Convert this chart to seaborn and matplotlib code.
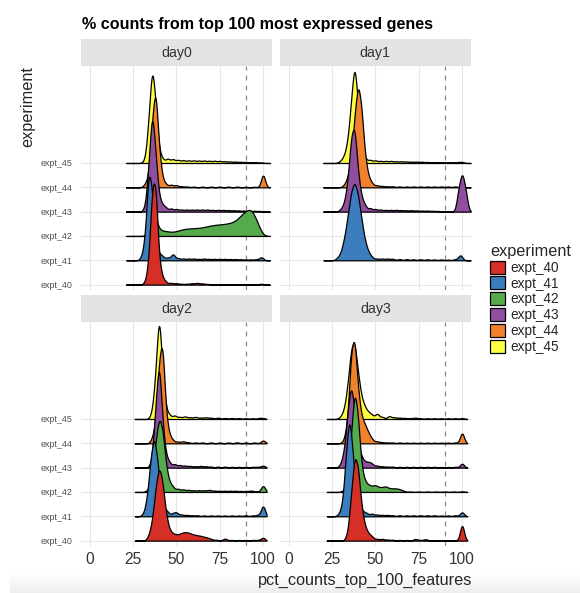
import numpy as np
import pandas as pd
import seaborn as sns
import matplotlib.pyplot as plt
from matplotlib.transforms import Affine2D
from matplotlib.patches import Patch

experiments = ["expt_40", "expt_41", "expt_42", "expt_43", "expt_44", "expt_45"]
days = ["day0", "day1", "day2", "day3"]
colors = ["#d52f28", "#3b7dbd", "#55ab4c", "#8f4f9e", "#f2812d", "#fdfd46"]

# range of pct values each panel's ridges are drawn over
day_clip = {"day0": (21, 104), "day1": (20, 105), "day2": (26, 102), "day3": (22, 103)}

# ridge profiles: (pct values, weights) per experiment
day0 = {
    "expt_40": ([32, 34, 36, 38, 40, 42, 44, 47, 50, 53, 56, 59, 62, 65, 68, 72, 76, 80, 85, 90, 95, 99],
                [0.1, 0.95, 4.2, 4.5, 1.0, 0.3, 0.12, 0.1, 0.08, 0.05, 0.05, 0.08, 0.1, 0.07, 0.04, 0.03, 0.03, 0.03, 0.03, 0.03, 0.03, 0.05]),
    "expt_41": ([30, 32, 34, 36, 38, 40, 42, 45, 48, 51, 54, 57, 60, 63, 66, 69, 72, 75, 78, 81, 84, 87, 90, 93, 96, 99],
                [0.15, 1.0, 4.0, 3.0, 0.6, 0.3, 0.2, 0.15, 0.35, 0.12, 0.1, 0.1, 0.1, 0.08, 0.1, 0.08, 0.08, 0.08, 0.08, 0.07, 0.07, 0.06, 0.05, 0.05, 0.06, 0.18]),
    "expt_42": ([34, 36, 38, 40, 42, 44, 46, 48, 50, 52, 54, 56, 58, 60, 62, 64, 66, 68, 70, 72, 74, 76, 78, 80, 82, 84, 86, 88, 90, 92, 94, 96, 98, 100],
                [0.4, 1.4, 0.8, 0.3, 0.22, 0.2, 0.18, 0.17, 0.2, 0.24, 0.28, 0.3, 0.31, 0.32, 0.33, 0.34, 0.37, 0.4, 0.43, 0.45, 0.47, 0.48, 0.5, 0.52, 0.56, 0.63, 0.75, 0.9, 1.02, 1.1, 1.0, 0.7, 0.35, 0.07]),
    "expt_43": ([32, 34, 36, 38, 40, 42, 44, 47, 50, 53, 56, 59, 62, 65, 68, 71, 74, 77, 80, 83, 86, 89, 92, 95, 98, 101],
                [0.2, 1.9, 4.5, 2.45, 0.6, 0.3, 0.2, 0.18, 0.15, 0.12, 0.12, 0.12, 0.12, 0.12, 0.12, 0.1, 0.1, 0.1, 0.09, 0.08, 0.07, 0.06, 0.05, 0.05, 0.04, 0.03]),
    "expt_44": ([32, 34, 36, 38, 40, 42, 44, 47, 50, 53, 56, 60, 65, 70, 75, 80, 85, 90, 95, 100],
                [0.15, 0.5, 2.8, 4.4, 1.6, 0.35, 0.15, 0.15, 0.12, 0.06, 0.05, 0.04, 0.04, 0.04, 0.04, 0.04, 0.04, 0.03, 0.03, 0.72]),
    "expt_45": ([32, 34, 36, 38, 40, 42, 45, 48, 51, 54, 57, 60, 63, 66, 69, 72, 75, 78, 81, 84, 87, 90, 93, 96, 99],
                [0.15, 1.8, 4.3, 2.55, 0.5, 0.2, 0.25, 0.22, 0.18, 0.16, 0.15, 0.15, 0.14, 0.14, 0.13, 0.13, 0.12, 0.1, 0.09, 0.08, 0.07, 0.06, 0.05, 0.04, 0.03]),
}
day1 = {
    "expt_41": ([28, 30, 32, 34, 36, 38, 40, 42, 44, 46, 48, 51, 54, 57, 60, 64, 68, 72, 76, 80, 84, 88, 92, 96, 99],
                [0.1, 0.3, 0.9, 1.8, 2.85, 3.3, 2.75, 1.7, 0.8, 0.35, 0.15, 0.1, 0.1, 0.1, 0.09, 0.07, 0.07, 0.06, 0.06, 0.06, 0.05, 0.05, 0.04, 0.06, 0.3]),
    "expt_43": ([30, 32, 34, 36, 38, 40, 42, 44, 47, 50, 53, 56, 59, 62, 65, 68, 71, 74, 77, 80, 83, 86, 89, 98, 100, 102],
                [0.1, 0.35, 1.2, 3.2, 3.7, 1.6, 0.6, 0.3, 0.2, 0.15, 0.12, 0.1, 0.1, 0.1, 0.09, 0.08, 0.08, 0.07, 0.06, 0.06, 0.05, 0.04, 0.02, 1.0, 1.75, 1.0]),
    "expt_44": ([32, 34, 36, 38, 40, 42, 44, 46, 48, 51, 54, 57, 60, 64, 68, 72, 76, 80, 84, 88, 92, 96, 100],
                [0.1, 0.4, 1.2, 2.95, 4.45, 3.4, 1.3, 0.45, 0.2, 0.12, 0.08, 0.06, 0.06, 0.05, 0.05, 0.05, 0.05, 0.05, 0.05, 0.05, 0.05, 0.05, 0.05]),
    "expt_45": ([30, 32, 34, 36, 38, 40, 42, 44, 47, 50, 53, 56, 59, 62, 65, 68, 71, 74, 77, 80, 83, 86, 89, 92, 95, 98, 100],
                [0.1, 0.3, 0.9, 2.55, 4.4, 2.35, 0.6, 0.25, 0.18, 0.15, 0.12, 0.12, 0.12, 0.1, 0.1, 0.09, 0.08, 0.08, 0.07, 0.06, 0.05, 0.05, 0.04, 0.04, 0.04, 0.05, 0.05]),
}
day2 = {
    "expt_40": ([34, 36, 38, 40, 42, 44, 46, 48, 50, 52, 54, 56, 58, 60, 62, 64, 66, 68, 70, 73, 78, 82, 86, 90, 94, 97, 100],
                [0.2, 0.8, 2.2, 3.15, 2.5, 1.1, 0.45, 0.3, 0.25, 0.28, 0.35, 0.35, 0.3, 0.25, 0.22, 0.2, 0.16, 0.12, 0.08, 0.05, 0.12, 0.04, 0.04, 0.04, 0.04, 0.04, 0.17]),
    "expt_41": ([31, 33, 35, 37, 39, 41, 43, 45, 48, 50, 53, 56, 59, 62, 66, 70, 74, 78, 82, 86, 90, 94, 97, 100],
                [0.1, 0.7, 2.3, 3.45, 2.4, 0.9, 0.35, 0.2, 0.15, 0.2, 0.1, 0.08, 0.06, 0.06, 0.05, 0.05, 0.05, 0.05, 0.05, 0.05, 0.06, 0.05, 0.08, 0.6]),
    "expt_42": ([34, 36, 38, 40, 42, 44, 46, 48, 51, 54, 57, 60, 63, 66, 69, 72, 75, 78, 81, 84, 87, 90, 93, 96, 100],
                [0.15, 0.6, 2.1, 3.15, 2.7, 1.1, 0.4, 0.25, 0.18, 0.15, 0.12, 0.1, 0.1, 0.1, 0.12, 0.08, 0.07, 0.07, 0.07, 0.07, 0.06, 0.06, 0.08, 0.05, 0.36]),
    "expt_43": ([36, 38, 40, 42, 44, 46, 49, 52, 55, 58, 61, 64, 67, 70, 74, 78, 82, 86, 90, 94, 97, 100],
                [0.4, 2.55, 4.8, 1.9, 0.5, 0.25, 0.2, 0.15, 0.12, 0.1, 0.08, 0.1, 0.08, 0.06, 0.06, 0.06, 0.05, 0.05, 0.05, 0.05, 0.05, 0.12]),
    "expt_44": ([36, 38, 40, 42, 44, 46, 48, 51, 54, 57, 61, 65, 70, 75, 80, 85, 90, 95, 100],
                [0.2, 0.9, 3.5, 4.5, 1.2, 0.35, 0.15, 0.1, 0.12, 0.06, 0.05, 0.05, 0.05, 0.05, 0.05, 0.06, 0.05, 0.05, 0.17]),
    "expt_45": ([36, 38, 40, 42, 44, 46, 49, 52, 55, 58, 61, 64, 67, 70, 74, 78, 82, 86, 90, 94, 98, 100],
                [0.3, 1.9, 4.8, 1.9, 0.4, 0.2, 0.2, 0.12, 0.15, 0.1, 0.12, 0.08, 0.1, 0.08, 0.08, 0.06, 0.06, 0.05, 0.04, 0.04, 0.06, 0.04]),
}
day3 = {
    "expt_40": ([34, 36, 38, 40, 42, 44, 46, 48, 51, 54, 57, 60, 64, 68, 73, 76, 79, 83, 87, 91, 95, 100],
                [0.3, 1.9, 3.65, 3.15, 1.4, 0.6, 0.3, 0.2, 0.1, 0.1, 0.06, 0.05, 0.04, 0.04, 0.1, 0.04, 0.08, 0.03, 0.03, 0.03, 0.03, 0.9]),
    "expt_41": ([29, 31, 33, 35, 37, 39, 41, 43, 45, 48, 51, 54, 57, 60, 64, 68, 72, 76, 80, 84, 88, 92, 96, 100],
                [0.1, 0.5, 2.55, 4.4, 2.55, 0.9, 0.4, 0.2, 0.15, 0.15, 0.1, 0.08, 0.08, 0.06, 0.06, 0.06, 0.06, 0.06, 0.06, 0.06, 0.05, 0.05, 0.06, 0.24]),
    "expt_42": ([32, 34, 36, 38, 40, 42, 44, 46, 48, 50, 52, 54, 56, 58, 60, 62, 64, 66, 70, 75, 80, 85, 90, 95, 100],
                [0.1, 0.5, 2.35, 4.4, 3.2, 1.0, 0.45, 0.3, 0.25, 0.3, 0.2, 0.2, 0.25, 0.15, 0.15, 0.15, 0.12, 0.06, 0.02, 0.02, 0.02, 0.02, 0.02, 0.02, 0.03]),
    "expt_43": ([30, 32, 34, 36, 38, 40, 42, 44, 46, 48, 51, 54, 57, 60, 64, 68, 72, 76, 80, 84, 88, 92, 96, 100],
                [0.15, 0.7, 2.3, 3.6, 2.4, 1.0, 0.45, 0.25, 0.25, 0.2, 0.12, 0.08, 0.06, 0.06, 0.05, 0.05, 0.05, 0.05, 0.05, 0.05, 0.04, 0.04, 0.05, 0.24]),
    "expt_44": ([32, 34, 36, 38, 40, 42, 44, 46, 48, 51, 54, 57, 60, 64, 68, 72, 76, 80, 84, 88, 92, 96, 100],
                [0.15, 1.0, 3.9, 4.6, 2.2, 1.1, 0.8, 0.45, 0.2, 0.12, 0.07, 0.05, 0.05, 0.05, 0.04, 0.04, 0.04, 0.04, 0.04, 0.04, 0.04, 0.05, 0.6]),
    "expt_45": ([30, 32, 34, 36, 38, 40, 42, 44, 46, 48, 51, 54, 58, 61, 64, 67, 70, 73, 76, 80, 84, 88, 92, 96, 100],
                [0.1, 0.4, 1.4, 3.0, 3.3, 1.9, 0.9, 0.5, 0.3, 0.2, 0.3, 0.12, 0.17, 0.1, 0.08, 0.06, 0.05, 0.08, 0.04, 0.04, 0.04, 0.04, 0.04, 0.04, 0.05]),
}

rows = []
for day, ridges in zip(days, [day0, day1, day2, day3]):
    for expt, (vals, wts) in ridges.items():
        for v, w in zip(vals, wts):
            rows.append({"day": day, "experiment": expt, "pct": v, "weight": w})
df = pd.DataFrame(rows)

BW = 1.2      # kde bandwidth in pct units
SCALE = 2.0   # ridge height per unit of weight density

sns.set_theme(style="white")
plt.rcParams["font.family"] = ["Liberation Sans", "DejaVu Sans"]
palette = dict(zip(experiments, colors))

W, H = 580, 593
fig = plt.figure(figsize=(W / 100, H / 100), dpi=100)


def fx(px):
    return px / W


def fy(py):
    return 1 - py / H


# faint grey band along the bottom edge of the screenshot
bg = fig.add_axes([fx(10), 0, 1 - fx(10), 20 / H], zorder=-10)
bg.imshow(np.linspace(1.0, 0.93, 50)[:, None], cmap="gray", vmin=0, vmax=1,
          aspect="auto", extent=(0, 1, 0, 1))
bg.axis("off")

panel_w = 190.7
lefts = [81, 280]
tops = [65.7, 321.7]
panel_h = 224.5
strip_h = 26.4

for k, day in enumerate(days):
    r, c = divmod(k, 2)
    left, top = lefts[c], tops[r]
    ax = fig.add_axes([fx(left), fy(top + panel_h), panel_w / W, panel_h / H])
    sax = fig.add_axes([fx(left), fy(top), panel_w / W, strip_h / H])
    sax.set_facecolor("#e3e3e3")
    sax.set_xticks([])
    sax.set_yticks([])
    for s in sax.spines.values():
        s.set_visible(False)
    sax.text(0.5, 0.5, day, ha="center", va="center", fontsize=10.2, color="#333333")

    ax.axvline(90, color="#8c8c8c", lw=0.9, ls=(0, (4, 4)), zorder=0.5)
    sub_day = df[df["day"] == day]
    # top ridge first so lower ridges sit in front
    for expt in experiments[::-1]:
        sub = sub_day[sub_day["experiment"] == expt]
        if sub.empty:
            continue
        pos = experiments.index(expt) + 1
        vals = sub["pct"].to_numpy(float)
        wts = sub["weight"].to_numpy(float)
        sd = np.sqrt(np.cov(vals, aweights=wts))
        n0 = len(ax.collections)
        sns.kdeplot(x=vals, weights=wts, bw_method=BW / sd, clip=day_clip[day], cut=60,
                    gridsize=600, fill=True, color=palette[expt], alpha=1,
                    edgecolor="black", linewidth=0.9, ax=ax)
        for coll in ax.collections[n0:]:
            coll.set_transform(Affine2D().scale(1, SCALE * wts.sum()).translate(0, pos) + ax.transData)

    ax.set_xlim(-5, 105)
    ax.set_ylim(0.77, 10.0)
    ax.set_xticks([0, 25, 50, 75, 100])
    ax.set_yticks(range(1, 7))
    ax.grid(True, color="#e6e6e6", lw=0.8)
    ax.set_axisbelow(True)
    for s in ax.spines.values():
        s.set_visible(False)
    ax.set_xlabel("")
    ax.set_ylabel("")
    ax.tick_params(length=0)
    if r == 1:
        ax.set_xticklabels(["0", "25", "50", "75", "100"], fontsize=11.2, color="#333333")
        ax.tick_params(axis="x", pad=4.5)
    else:
        ax.set_xticklabels([])
    if c == 0:
        ax.set_yticklabels(experiments, fontsize=6.4, color="#4d4d4d")
        ax.tick_params(axis="y", pad=6)
    else:
        ax.set_yticklabels([])

fig.text(fx(81.7), fy(29.3), "% counts from top 100 most expressed genes",
         fontsize=11.6, fontweight="bold", ha="left", va="baseline", color="black")
fig.text(fx(28), fy(66), "experiment", rotation=90, ha="center", va="top", fontsize=11.7)
fig.text(fx(472), fy(580), "pct_counts_top_100_features", ha="right", va="center", fontsize=11.7)

handles = [Patch(facecolor=palette[e], edgecolor="black", lw=0.9) for e in experiments]
leg = fig.legend(handles, experiments, loc="upper left", bbox_to_anchor=(fx(490), fy(244)),
                 frameon=False, fontsize=9.8, title="experiment", title_fontsize=11.7,
                 handlelength=1.1, handleheight=1.1, labelspacing=0.12, handletextpad=0.37,
                 borderpad=0, borderaxespad=0, alignment="left")

fig.savefig("out.png", dpi=100)
